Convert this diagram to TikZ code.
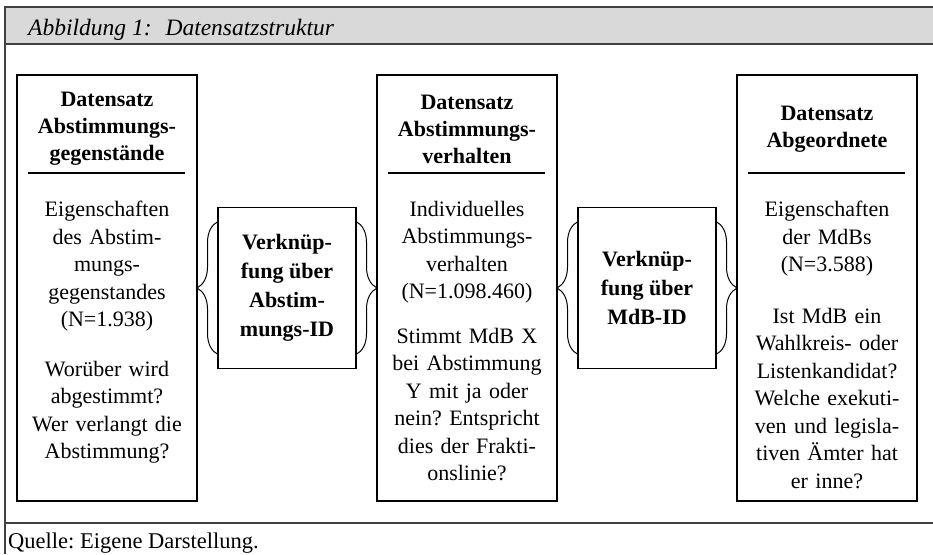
\documentclass[tikz,border=0pt]{standalone}
\usepackage{fontspec}
\setmainfont{Liberation Serif}
\usetikzlibrary{positioning, decorations.pathreplacing}

\tikzset{
	databox/.style={draw, line width=1.3pt, minimum width=180pt, minimum height=426pt,
		inner sep=0pt, outer sep=0pt},
	linkbox/.style={draw, line width=1.3pt, minimum width=138pt, minimum height=161pt,
		inner sep=0pt, outer sep=0pt, align=center,
		font=\fontsize{22}{29}\selectfont\bfseries},
	headtext/.style={text width=170pt, align=center, inner sep=0pt,
		font=\fontsize{22}{27}\selectfont\bfseries},
	bodytext/.style={text width=178pt, align=center, inner sep=0pt,
		font=\fontsize{22}{27.5}\selectfont},
	linkbrace/.style={decorate, decoration={brace, amplitude=21pt}, line width=1pt},
	frameline/.style={draw=black!75, line width=1.2pt}
}
\frenchspacing

\begin{document}
\begin{tikzpicture}[x=1pt, y=-1pt]

		\useasboundingbox (0,0) rectangle (933,554);

		% Define the macro.
		% 1st argument: Name of the data set box.
		% 2nd argument: Placement --> coordinate or relative to the previous box.
		% 3rd argument: Heading of the data set (bold, above the rule).
		% 4th argument: Text to be placed below the rule.
		\newcommand{\datasetBox}[4]{
			% Draw the box body.
			\node[databox, #2] (#1) {};
			\node[headtext] (#1-head) at ([yshift=-54pt]#1.north) {#3};
			% Rule below the heading.
			\draw[line width=1.2pt] ([xshift=11pt,yshift=-98pt]#1.north west)
				-- ([xshift=-12pt,yshift=-98pt]#1.north east);
			\node[bodytext, anchor=north] (#1-body) at ([yshift=-126pt]#1.north) {#4};
		}

		% FRAME
		\fill[black!15] (5,7) rectangle (933,44);
		\draw[frameline] (933,7) -- (5,7) -- (5,554);
		\draw[frameline] (5,44) -- (933,44);
		\draw[frameline] (5,523) -- (933,523);
		\node[anchor=base west, inner sep=0pt, font=\fontsize{23.5}{28}\selectfont\itshape]
			(title) at (28,35) {Abbildung 1:\hspace{14pt}Datensatzstruktur};
		\node[anchor=base west, inner sep=0pt, font=\fontsize{22.5}{26}\selectfont]
			(source) at (8,548) {Quelle: Eigene Darstellung.};

		% DATA SETS AND LINKS
		\datasetBox{gegen}{at={(107,288)}}{
			Datensatz\\Abstimmungs-\\gegenstände
		}{
			Eigenschaften\\des Abstim-\\mungs-\\gegenstandes\\(N=1.938)\\[22pt]
			Worüber wird\\abgestimmt?\\Wer verlangt die\\Abstimmung?
		}

		\node[linkbox, right=21pt of gegen] (linkA) {Verknüp-\\fung über\\Abstim-\\mungs-ID};

		\datasetBox{verhalten}{right=21pt of linkA}{
			Datensatz\\Abstimmungs-\\verhalten
		}{
			Individuelles\\Abstimmungs-\\verhalten\\(N=1.098.460)\\[17pt]
			Stimmt MdB X\\bei Abstimmung\\Y mit ja oder\\nein? Entspricht\\dies der Frakti-\\onslinie?
		}

		\node[linkbox, right=21pt of verhalten] (linkB) {Verknüp-\\fung über\\MdB-ID};

		\datasetBox{abgeordnete}{right=21pt of linkB}{
			Datensatz\\Abgeordnete
		}{
			Eigenschaften\\der MdBs\\(N=3.588)\\[24pt]
			Ist MdB ein\\Wahlkreis- oder\\Listenkandidat?\\Welche exekuti-\\ven und legisla-\\tiven Ämter hat\\er inne?
		}

		% Braces between the link boxes and the data sets.
		\foreach \lk in {linkA, linkB}{
			\draw[linkbrace] ([yshift=14pt]\lk.south west) -- ([yshift=-14pt]\lk.north west);
			\draw[linkbrace] ([yshift=-14pt]\lk.north east) -- ([yshift=14pt]\lk.south east);
		}

\end{tikzpicture}
\end{document}
